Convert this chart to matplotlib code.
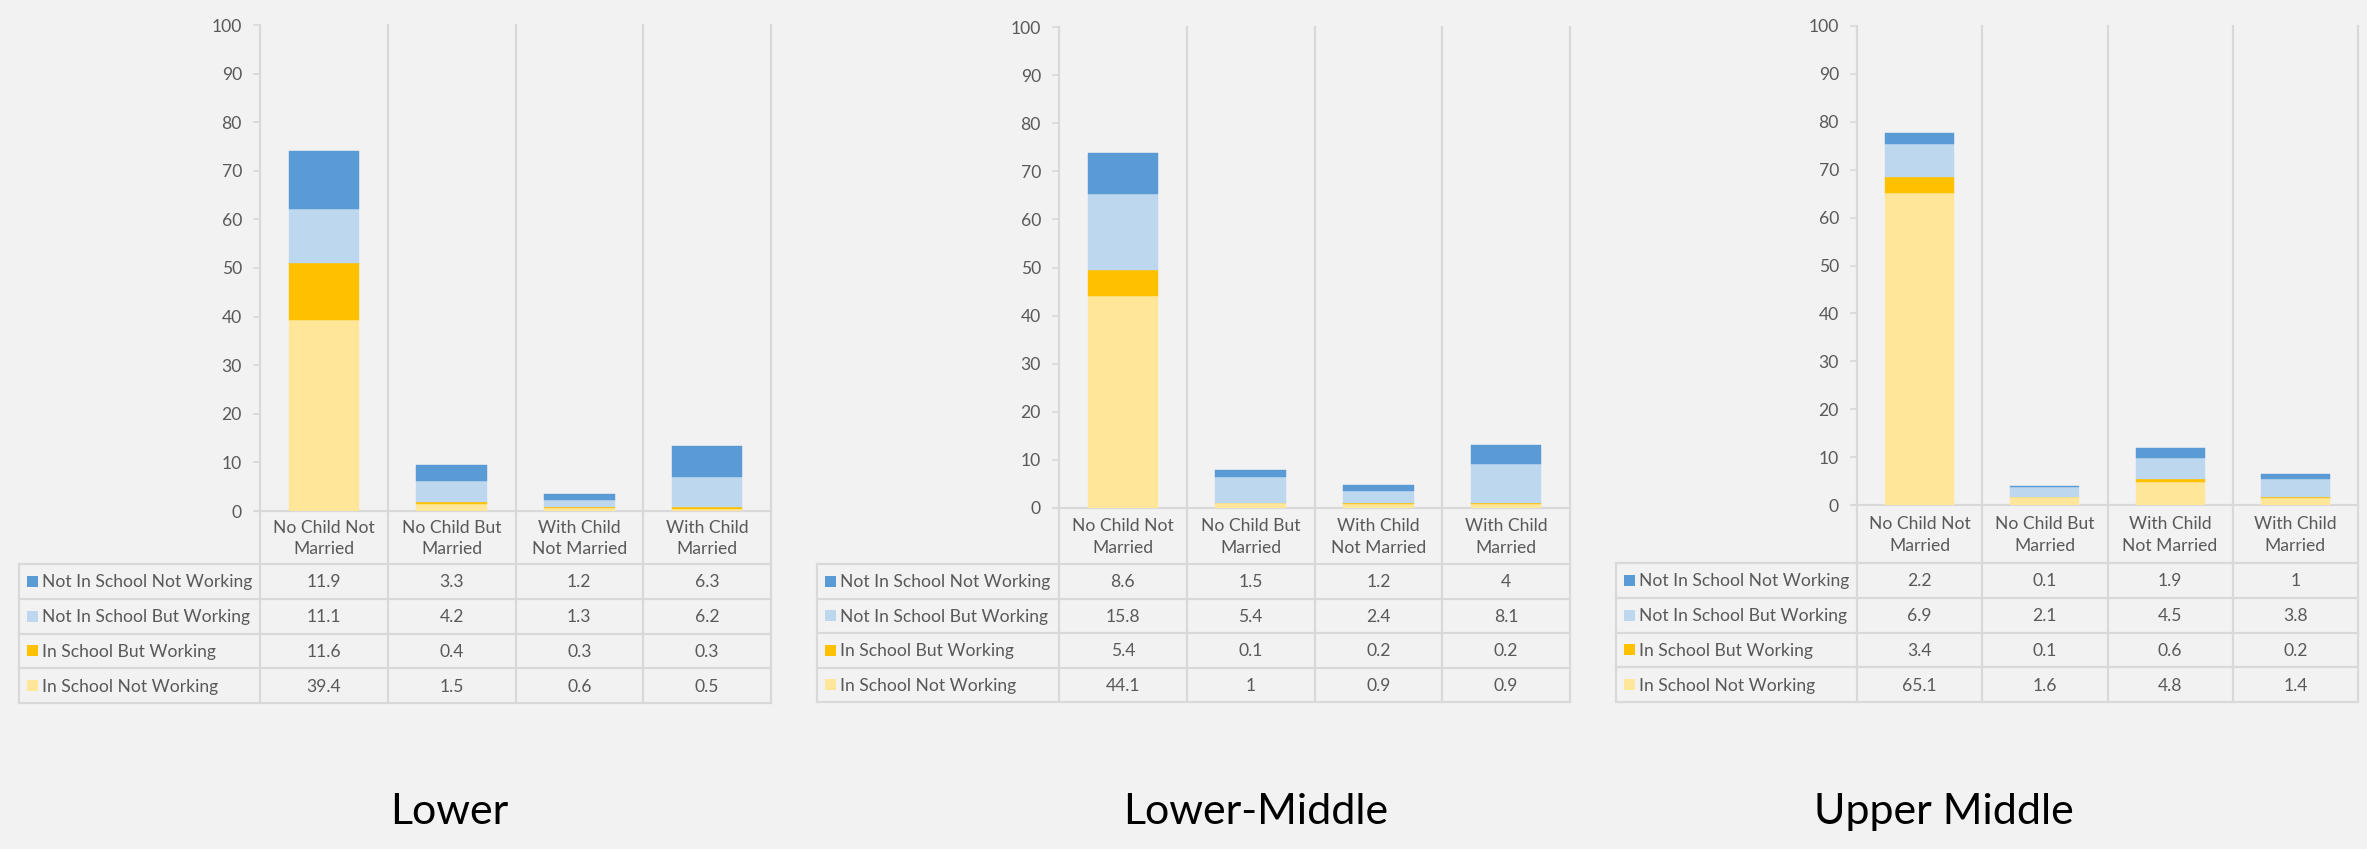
import matplotlib
matplotlib.use("Agg")
import matplotlib.pyplot as plt
from matplotlib.patches import Rectangle

# ---- data -------------------------------------------------------------
categories = ["No Child Not\nMarried", "No Child But\nMarried",
              "With Child\nNot Married", "With Child\nMarried"]
series_names = ["Not In School Not Working", "Not In School But Working",
                "In School But Working", "In School Not Working"]
panel_titles = ["Lower", "Lower-Middle", "Upper Middle"]

lower_nsnw = [11.9, 3.3, 1.2, 6.3]
lower_nsbw = [11.1, 4.2, 1.3, 6.2]
lower_isbw = [11.6, 0.4, 0.3, 0.3]
lower_isnw = [39.4, 1.5, 0.6, 0.5]

lowmid_nsnw = [8.6, 1.5, 1.2, 4]
lowmid_nsbw = [15.8, 5.4, 2.4, 8.1]
lowmid_isbw = [5.4, 0.1, 0.2, 0.2]
lowmid_isnw = [44.1, 1, 0.9, 0.9]

upmid_nsnw = [2.2, 0.1, 1.9, 1]
upmid_nsbw = [6.9, 2.1, 4.5, 3.8]
upmid_isbw = [3.4, 0.1, 0.6, 0.2]
upmid_isnw = [65.1, 1.6, 4.8, 1.4]

yticks = list(range(0, 101, 10))

# ---- styling ------------------------------------------------------------
colors = ["#5B9BD5", "#BDD7EE", "#FFC000", "#FFE699"]
bg = "#F2F2F2"
grid = "#D9D9D9"
txt = "#595959"
font = "Lato"
fs = 12.6

W, H = 2367, 849
fig = plt.figure(figsize=(W / 100, H / 100), dpi=100, facecolor=bg)

# overlay in pixel coordinates for the data table and panel titles
ov = fig.add_axes([0, 0, 1, 1], zorder=0)
ov.set_xlim(0, W)
ov.set_ylim(H, 0)
ov.axis("off")
ov.set_facecolor("none")

# panel geometry in pixels: table left, axis x, right edge, y of 100, y of 0,
# table top, table bottom, title centre x
panels = [
    dict(tl=19, ax=260, r=771, top=25, base=511, tt=564, tb=703, cx=449),
    dict(tl=817, ax=1059, r=1570, top=27, base=508, tt=564, tb=702, cx=1256),
    dict(tl=1616, ax=1857, r=2358, top=26, base=505, tt=563, tb=702, cx=1944),
]

data = [
    [lower_nsnw, lower_nsbw, lower_isbw, lower_isnw],
    [lowmid_nsnw, lowmid_nsbw, lowmid_isbw, lowmid_isnw],
    [upmid_nsnw, upmid_nsbw, upmid_isbw, upmid_isnw],
]


def fmt(v):
    return f"{v:g}"


for p, rows, title in zip(panels, data, panel_titles):
    # bar axes
    axb = fig.add_axes([p["ax"] / W, 1 - p["base"] / H,
                        (p["r"] - p["ax"]) / W, (p["base"] - p["top"]) / H],
                       zorder=2)
    axb.set_facecolor("none")
    axb.set_xlim(0, 4)
    axb.set_ylim(0, 100)
    xs = [i + 0.5 for i in range(4)]
    bottom = [0.0] * 4
    # stack from bottom: In School Not Working first
    for vals, col in zip(rows[::-1], colors[::-1]):
        axb.bar(xs, vals, width=0.55, bottom=bottom, color=col,
                edgecolor=col, linewidth=0.3, zorder=3)
        bottom = [b + v for b, v in zip(bottom, vals)]
    axb.set_yticks(yticks)
    axb.set_yticklabels([str(t) for t in yticks], fontsize=fs,
                        color=txt, family=font)
    axb.tick_params(axis="y", length=5, width=1.2, color=grid, pad=8)
    axb.set_xticks([])
    for s in ["top", "right", "bottom"]:
        axb.spines[s].set_visible(False)
    axb.spines["left"].set_color(grid)
    axb.spines["left"].set_linewidth(1.3)

    # grid lines and table structure
    colw = (p["r"] - p["ax"]) / 4
    xcols = [p["ax"] + i * colw for i in range(5)]
    lw = 1.6
    ov.plot([p["ax"] - 5, p["r"]], [p["base"], p["base"]], color=grid, lw=lw)
    for i, x in enumerate(xcols):
        ov.plot([x, x], [p["top"], p["tb"]], color=grid, lw=lw)
    rh = (p["tb"] - p["tt"]) / 4
    for k in range(5):
        y = p["tt"] + k * rh
        ov.plot([p["tl"], p["r"]], [y, y], color=grid, lw=lw)
    ov.plot([p["tl"], p["tl"]], [p["tt"], p["tb"]], color=grid, lw=lw)

    # category labels
    for i, c in enumerate(categories):
        ov.text(xcols[i] + colw / 2, (p["base"] + p["tt"]) / 2 + 1, c,
                ha="center", va="center", fontsize=fs, color=txt,
                family=font, linespacing=1.4)

    # table rows: legend key, series name and values
    for k, (name, vals, col) in enumerate(zip(series_names, rows, colors)):
        yc = p["tt"] + (k + 0.5) * rh
        ov.add_patch(Rectangle((p["tl"] + 8, yc - 5.5), 11, 11,
                               facecolor=col, edgecolor="none"))
        ov.text(p["tl"] + 23, yc + 1, name, ha="left", va="center",
                fontsize=fs, color=txt, family=font)
        for i, v in enumerate(vals):
            ov.text(xcols[i] + colw / 2, yc + 1, fmt(v), ha="center",
                    va="center", fontsize=fs, color=txt, family=font)

    ov.text(p["cx"], 812, title, ha="center", va="center", fontsize=31,
            color="#000000", family=font)

fig.savefig("out.png", dpi=100, facecolor=bg)
